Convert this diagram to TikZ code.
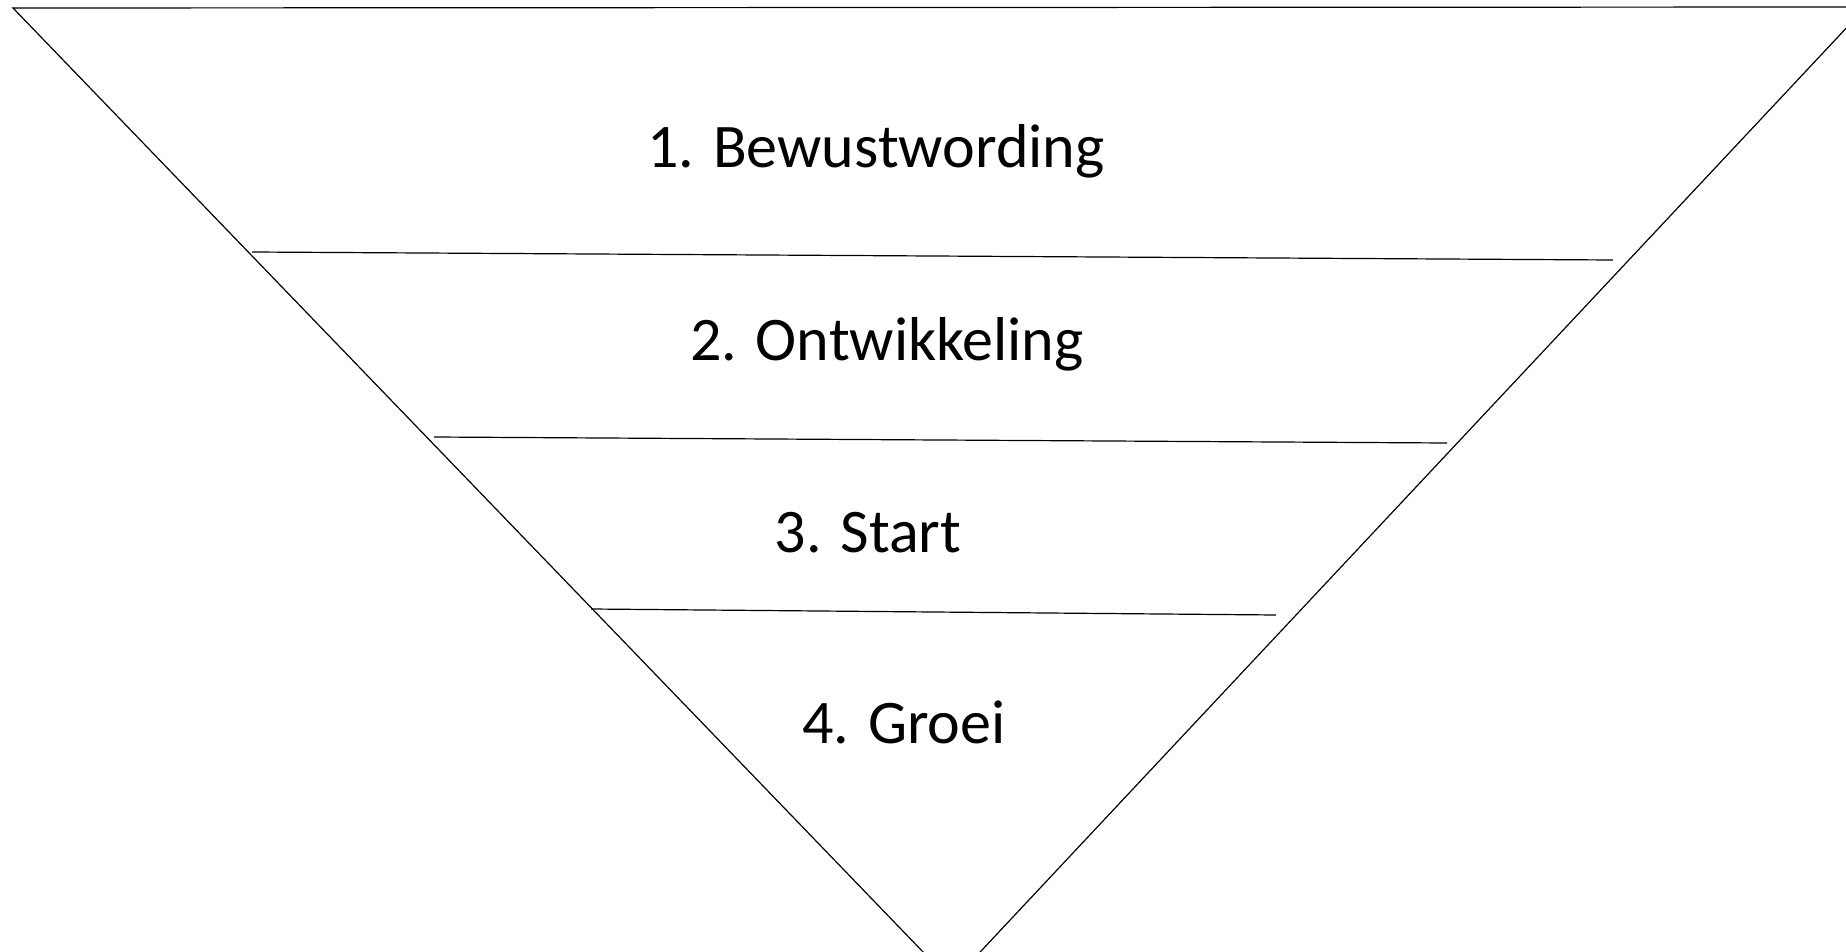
\documentclass[tikz,border=0pt]{standalone}
\usepackage{fontspec}
\setmainfont{Carlito}
\begin{document}
\begin{tikzpicture}[
      x=0.5pt, y=-0.5pt, % one unit per pixel, y pointing down
      funnel line/.style={black, line width=0.6pt},
      stage label/.style={anchor=base, inner sep=0pt, font=\fontsize{31}{37}\selectfont}
    ]

    % Fix the page size and cut off what lies outside
    \useasboundingbox (0,0) rectangle (1846,952);
    \clip (0,0) rectangle (1846,952);

    % Corners of the funnel
    \coordinate (top left) at (13,8);
    \coordinate (top right) at (1866,7);
    \coordinate (apex) at (952,982);

    % Draw the funnel
    \draw [funnel line] (top left) -- (top right) -- (apex) -- cycle;

    % Ends of the separating lines
    \coordinate (sep1 left) at (252,252);
    \coordinate (sep1 right) at (1613,260);
    \coordinate (sep2 left) at (434,437);
    \coordinate (sep2 right) at (1447,443);
    \coordinate (sep3 left) at (591,609);
    \coordinate (sep3 right) at (1276,615);

    \foreach \s in {1,2,3} {
        \draw [funnel line] (sep\s\space left) -- (sep\s\space right);
      }

    % Stage labels
    \node[stage label] (stage1) at (876,168) {1. Bewustwording};
    \node[stage label] (stage2) at (887,360) {2. Ontwikkeling};
    \node[stage label] (stage3) at (868,552) {3. Start};
    \node[stage label] (stage4) at (904,743) {4. Groei};

  \end{tikzpicture}
\end{document}
